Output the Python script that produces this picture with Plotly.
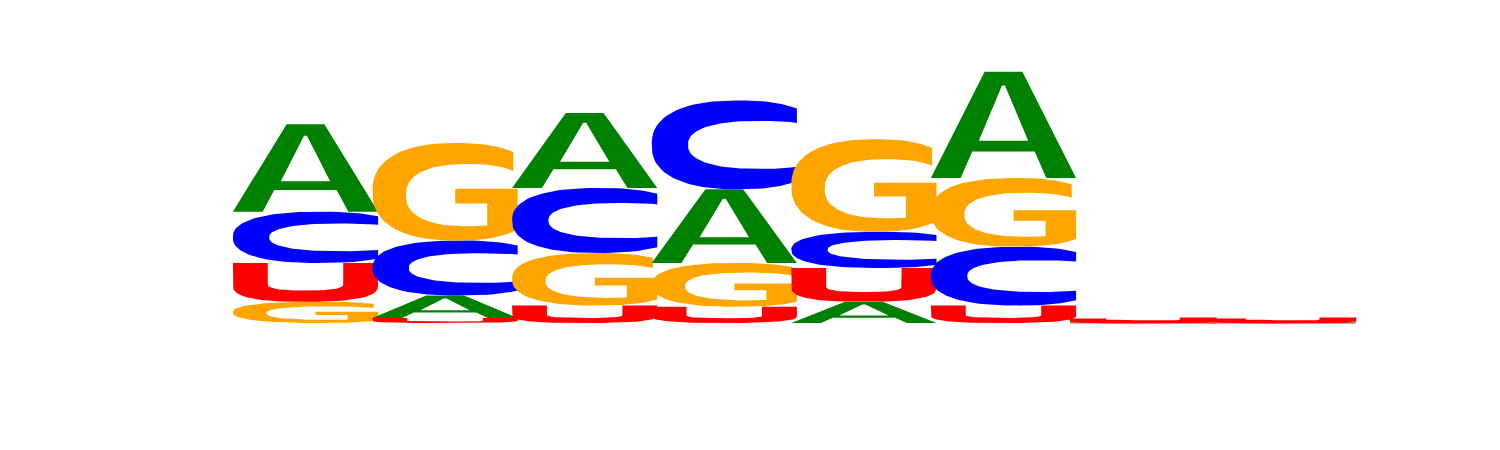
"""RNA sequence logo drawn with plotly filled scatter glyphs"""

import numpy as np
import plotly.graph_objects as go

# letter heights (bits) for each position of the motif
positions = [1, 2, 3, 4, 5, 6, 7, 8]
height_a = [0.70, 0.18, 0.60, 0.59, 0.17, 0.85, 0.002, 0.002]
height_c = [0.41, 0.44, 0.52, 0.71, 0.29, 0.47, 0.002, 0.002]
height_g = [0.17, 0.78, 0.42, 0.35, 0.74, 0.55, 0.002, 0.002]
height_u = [0.31, 0.04, 0.14, 0.13, 0.27, 0.14, 0.030, 0.030]

letters = ["A", "C", "G", "U"]
colors = {"A": "#008000", "C": "#0000ff", "G": "#ffa500", "U": "#ff0000"}

LETTER_WIDTH = 1.04


def blob(cx, cy, rx, ry, n, t):
    """points on a superellipse (rounded letter bodies)"""
    c, s = np.cos(t), np.sin(t)
    x = cx + rx * np.sign(c) * np.abs(c) ** (2 / n)
    y = cy + ry * np.sign(s) * np.abs(s) ** (2 / n)
    return list(zip(x, y))


def angle_at(cx, rx, n, xv):
    """parameter angle where the superellipse reaches x = xv (upper half)"""
    return np.arccos(((xv - cx) / rx) ** (n / 2))


def glyph_a():
    # outer outline, with the counter cut in through a zero width bridge
    return [(0, 0), (0.37, 1),
            (0.49, 0.87), (0.33, 0.35), (0.67, 0.35), (0.51, 0.87), (0.49, 0.87),
            (0.37, 1), (0.63, 1), (1, 0), (0.795, 0), (0.715, 0.25),
            (0.285, 0.25), (0.205, 0)]


def glyph_c():
    n = 2.4
    t_out = angle_at(0.6, 0.6, n, 1.0)
    t_in = angle_at(0.75, 0.5, n, 1.0)
    outer = blob(0.6, 0.5, 0.6, 0.5, n, np.linspace(t_out, 2 * np.pi - t_out, 80))
    inner = blob(0.75, 0.5, 0.5, 0.27, n, np.linspace(2 * np.pi - t_in, t_in, 80))
    return outer + inner


def glyph_g():
    n = 2.4
    t_top = angle_at(0.58, 0.58, n, 0.97)
    t_bot = angle_at(0.58, 0.58, n, 1.0)
    outer = blob(0.58, 0.5, 0.58, 0.5, n, np.linspace(t_top, 2 * np.pi - t_bot, 80))
    bar = [(1.0, 0.53), (0.57, 0.53), (0.57, 0.38), (0.79, 0.38)]
    t_stem = angle_at(0.66, 0.43, n, 0.79)
    t_in = angle_at(0.66, 0.43, n, 0.97)
    inner = blob(0.66, 0.465, 0.43, 0.32, n,
                 np.linspace(2 * np.pi - t_stem, t_in, 80))
    return outer + bar + inner


def glyph_u():
    n = 2.6
    outer = blob(0.5, 0.42, 0.5, 0.42, n, np.linspace(np.pi, 2 * np.pi, 50))
    inner = blob(0.5, 0.45, 0.26, 0.16, n, np.linspace(2 * np.pi, np.pi, 40))
    return [(0, 1)] + outer + [(1, 1), (0.76, 1)] + inner + [(0.24, 1)]


GLYPHS = {"A": glyph_a(), "C": glyph_c(), "G": glyph_g(), "U": glyph_u()}


def build_traces():
    """stack the letters in each column, smallest at the bottom"""
    heights = {"A": height_a, "C": height_c, "G": height_g, "U": height_u}
    traces = []
    for i, pos in enumerate(positions):
        col = sorted(letters, key=lambda k: heights[k][i])
        base = 0.0
        for k in col:
            h = heights[k][i]
            xs = [pos - 0.5 + (gx - 0.5) * LETTER_WIDTH for gx, _ in GLYPHS[k]]
            ys = [base + gy * h for _, gy in GLYPHS[k]]
            # letters only a few pixels tall get a stroke so they read as a solid bar
            if h < 0.01:
                width = 0.5
            elif h < 0.035:
                width = 2
            else:
                width = 0
            traces.append(go.Scatter(x=xs, y=ys, mode="lines", fill="toself",
                                     fillcolor=colors[k],
                                     line=dict(width=width, color=colors[k]),
                                     hoverinfo="skip", showlegend=False))
            base += h
    return traces


def main():
    """main"""
    fig = go.Figure(build_traces())
    fig.update_layout(width=1500, height=450,
                      margin=dict(l=0, r=0, t=0, b=0),
                      paper_bgcolor="white", plot_bgcolor="white")
    # the page body adds an 8px offset, so the ranges are set a little wider
    fig.update_xaxes(range=[-1.631, 9.114], visible=False)
    fig.update_yaxes(range=[-1.08, 2.52], visible=False)
    fig.write_html("out.html", config={"displayModeBar": False})


if __name__ == "__main__":
    main()
